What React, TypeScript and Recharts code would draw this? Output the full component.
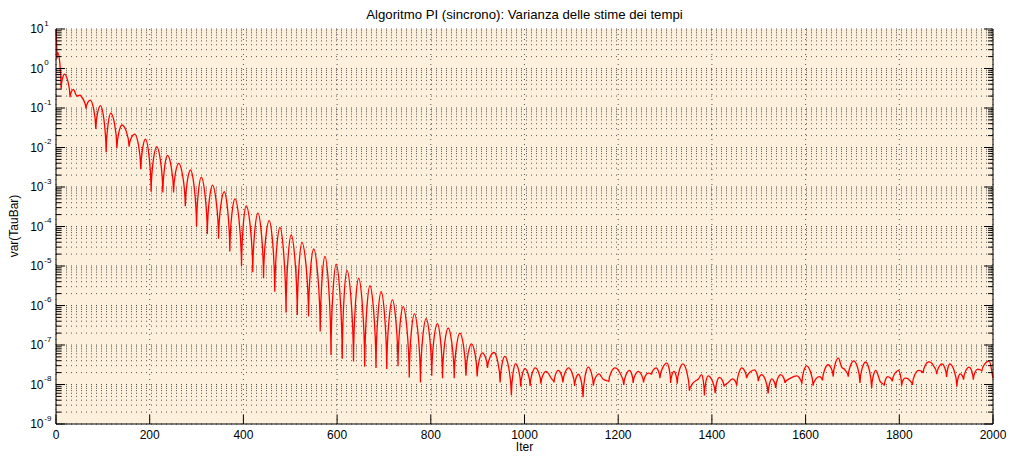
import React from 'react';
import { LineChart, Line, XAxis, YAxis, CartesianGrid } from 'recharts';

// iteration index of each turning point of the curve
const iterations = [
  0, 2, 4, 11, 18, 30, 37, 44, 53, 64, 73, 85, 95, 107, 117, 130, 141, 156, 168, 181,
  191, 203, 215, 228, 238, 251, 262, 276, 287, 300, 310, 323, 334, 347, 359, 371, 382, 396, 406, 420,
  431, 443, 455, 467, 478, 491, 502, 515, 525, 539, 550, 564, 574, 587, 598, 611, 621, 635, 646, 659,
  670, 683, 694, 706, 718, 730, 741, 754, 765, 778, 790, 802, 814, 825, 837, 850, 862, 875, 887, 899,
  910, 921, 935, 948, 958, 972, 981, 992, 1001, 1012, 1023, 1035, 1046, 1058, 1063, 1072, 1082, 1094, 1107, 1115,
  1125, 1136, 1147, 1159, 1168, 1180, 1193, 1202, 1212, 1224, 1232, 1243, 1254, 1264, 1271, 1281, 1289, 1304, 1312, 1319,
  1326, 1338, 1352, 1360, 1371, 1378, 1384, 1392, 1407, 1416, 1426, 1435, 1444, 1453, 1464, 1474, 1491, 1499, 1506, 1520,
  1528, 1536, 1547, 1556, 1568, 1581, 1586, 1592, 1602, 1616, 1629, 1636, 1648, 1659, 1670, 1677, 1684, 1691, 1703, 1716,
  1728, 1741, 1750, 1759, 1768, 1775, 1785, 1798, 1805, 1812, 1819, 1828, 1841, 1851, 1862, 1869, 1880, 1891, 1901, 1908,
  1923, 1930, 1937, 1949, 1958, 1967, 1976, 1992, 2000,
];

// log10 of var(TauBar) at those iterations
const varExponent = [
  1.0, 0.25, 0.4, -0.52, -0.14, -0.73, -0.53, -0.69, -0.69, -1.02, -0.8, -1.53, -0.94, -2.12, -1.13, -2.02, -1.43, -1.98, -1.66, -2.55,
  -1.79, -3.12, -1.98, -3.14, -2.2, -3.14, -2.4, -3.49, -2.57, -4.0, -2.75, -4.19, -2.95, -4.31, -3.12, -4.63, -3.3, -5.0, -3.48, -5.16,
  -3.66, -5.31, -3.85, -5.65, -4.02, -6.18, -4.21, -6.24, -4.4, -6.28, -4.57, -6.66, -4.76, -7.25, -4.95, -7.35, -5.11, -7.42, -5.31, -7.55,
  -5.5, -7.58, -5.65, -7.61, -5.86, -7.54, -6.03, -7.82, -6.21, -7.95, -6.33, -7.78, -6.46, -7.84, -6.57, -7.84, -6.7, -7.78, -6.97, -7.8,
  -7.2, -7.58, -7.19, -7.95, -7.29, -8.27, -7.47, -8.05, -7.6, -8.04, -7.58, -7.98, -7.67, -7.86, -7.95, -7.64, -7.95, -7.58, -8.04, -7.74,
  -8.32, -7.56, -8.03, -7.73, -7.87, -7.93, -7.58, -7.67, -8.01, -7.64, -7.96, -7.67, -7.95, -7.71, -7.75, -7.58, -7.84, -7.46, -7.96, -7.67,
  -7.98, -7.48, -8.16, -7.96, -7.86, -7.75, -8.28, -7.78, -8.22, -7.82, -8.05, -7.95, -7.86, -8.03, -7.58, -7.84, -7.63, -7.92, -7.75, -8.23,
  -7.86, -8.09, -7.75, -7.96, -7.84, -7.78, -7.82, -7.98, -7.53, -8.03, -7.8, -7.9, -7.5, -7.8, -7.33, -7.56, -7.63, -7.8, -7.4, -7.96,
  -7.43, -8.09, -7.64, -7.92, -8.03, -7.8, -7.92, -7.64, -8.03, -7.84, -7.86, -8.01, -7.64, -7.71, -7.43, -7.46, -7.74, -7.48, -7.81, -7.48,
  -8.05, -7.73, -7.88, -7.56, -7.88, -7.61, -7.67, -7.4, -7.84,
];

const xTicks = [0, 200, 400, 600, 800, 1000, 1200, 1400, 1600, 1800, 2000];
const decades = [-9, -8, -7, -6, -5, -4, -3, -2, -1, 0];
const minorSteps = [1, 2, 3, 4, 5, 6, 7, 8, 9];

const TITLE = 'Algoritmo PI (sincrono): Varianza delle stime dei tempi';
const X_LABEL = 'Iter';
const Y_LABEL = 'var(TauBar)';

const W = 1010;
const H = 456;
const PLOT_LEFT = 56;
const PLOT_RIGHT = 993;
const PLOT_TOP = 29;
const PLOT_BOTTOM = 424;
const FONT = '"Liberation Sans", Arial, Helvetica, sans-serif';
const TICK_LEN = 9;
const MINOR_LEN = 5;

const data = iterations.map((it, i) => ({ it, v: Math.pow(10, varExponent[i]) }));
const yTicks = [...decades.flatMap(e => minorSteps.map(m => m * Math.pow(10, e))), 10];

const isDecade = (v: number) => {
  const e = Math.log10(v);
  return Math.abs(e - Math.round(e)) < 1e-6;
};

// Bezier path through the turning points: rounded crests, sharp dips
const dipCurve = (context: any) => {
  let xs: number[] = [];
  let ys: number[] = [];
  return {
    areaStart() {},
    areaEnd() {},
    lineStart() {
      xs = [];
      ys = [];
    },
    point(x: number, y: number) {
      xs.push(+x);
      ys.push(+y);
    },
    lineEnd() {
      const n = xs.length;
      if (!n) return;
      context.moveTo(xs[0], ys[0]);
      if (n === 1) return;
      const kind = (i: number) => {
        if (i === 0 || i === n - 1) return 'end';
        if (ys[i] > ys[i - 1] && ys[i] > ys[i + 1]) return 'low';
        if (ys[i] < ys[i - 1] && ys[i] < ys[i + 1]) return 'high';
        return 'mid';
      };
      const slope = (i: number) => {
        if (i === 0) return (ys[1] - ys[0]) / (xs[1] - xs[0]);
        if (i === n - 1) return (ys[n - 1] - ys[n - 2]) / (xs[n - 1] - xs[n - 2]);
        if (kind(i) === 'high') return 0;
        return (ys[i + 1] - ys[i - 1]) / (xs[i + 1] - xs[i - 1]);
      };
      for (let i = 1; i < n; i++) {
        const x0 = xs[i - 1], y0 = ys[i - 1], x1 = xs[i], y1 = ys[i];
        const dx = x1 - x0, dy = y1 - y0;
        let c1x: number, c1y: number, c2x: number, c2y: number;
        if (kind(i - 1) === 'low') {
          c1x = x0 + dx * 0.06;
          c1y = y0 + dy * 0.55;
        } else {
          const m = slope(i - 1);
          c1x = x0 + dx / 3;
          c1y = y0 + (m * dx) / 3;
        }
        if (kind(i) === 'low') {
          c2x = x1 - dx * 0.06;
          c2y = y1 - dy * 0.55;
        } else {
          const m = slope(i);
          c2x = x1 - dx / 3;
          c2y = y1 - (m * dx) / 3;
        }
        context.bezierCurveTo(c1x, c1y, c2x, c2y, x1, y1);
      }
    },
  };
};

const LeftTick = ({ y, payload }: any) => {
  const v = payload.value as number;
  const major = isDecade(v);
  return (
    <g>
      <line x1={PLOT_LEFT} x2={PLOT_LEFT + (major ? TICK_LEN : MINOR_LEN)} y1={y} y2={y} stroke="#000" />
      {major && (
        <g fontFamily={FONT} fill="#000">
          <text x={43.5} y={y + 4.3} textAnchor="end" fontSize={12}>10</text>
          <text x={44.3} y={y - 3.5} textAnchor="start" fontSize={8}>{Math.round(Math.log10(v))}</text>
        </g>
      )}
    </g>
  );
};

const RightTick = ({ y, payload }: any) => {
  const major = isDecade(payload.value as number);
  return <line x1={PLOT_RIGHT - (major ? TICK_LEN : MINOR_LEN)} x2={PLOT_RIGHT} y1={y} y2={y} stroke="#000" />;
};

const BottomTick = ({ x, payload }: any) => (
  <g>
    <line x1={x} x2={x} y1={PLOT_BOTTOM} y2={PLOT_BOTTOM - TICK_LEN} stroke="#000" />
    <text x={x} y={PLOT_BOTTOM + 15} textAnchor="middle" fontSize={12} fontFamily={FONT} fill="#000">
      {payload.value}
    </text>
  </g>
);

const TopTick = ({ x }: any) => (
  <line x1={x} x2={x} y1={PLOT_TOP} y2={PLOT_TOP + TICK_LEN} stroke="#000" />
);

export default function App() {
  return (
    <div style={{ position: 'absolute', left: 0, top: 0, width: W, height: H, background: '#fff', fontFamily: FONT }}>
      <div style={{ position: 'absolute', left: 0, top: 0 }}>
        <LineChart
          width={W}
          height={H}
          data={data}
          margin={{ top: PLOT_TOP, right: 0, bottom: 0, left: 0 }}
        >
          <CartesianGrid
            stroke="#555"
            strokeDasharray="1 4"
            fill="#FDF0DC"
            fillOpacity={1}
          />
          <XAxis
            dataKey="it"
            type="number"
            domain={[0, 2000]}
            ticks={xTicks}
            interval={0}
            height={H - PLOT_BOTTOM}
            stroke="#000"
            tickLine={false}
            tick={<BottomTick />}
          />
          <XAxis
            xAxisId="top"
            orientation="top"
            type="number"
            domain={[0, 2000]}
            ticks={xTicks}
            interval={0}
            height={0}
            stroke="#000"
            tickLine={false}
            tick={<TopTick />}
          />
          <YAxis
            dataKey="v"
            scale="log"
            type="number"
            domain={[1e-9, 10]}
            allowDataOverflow
            ticks={yTicks}
            interval={0}
            width={PLOT_LEFT}
            stroke="#000"
            tickLine={false}
            tick={<LeftTick />}
          />
          <YAxis
            yAxisId="right"
            orientation="right"
            scale="log"
            type="number"
            domain={[1e-9, 10]}
            allowDataOverflow
            ticks={yTicks}
            interval={0}
            width={W - PLOT_RIGHT}
            stroke="#000"
            tickLine={false}
            tick={<RightTick />}
          />
          <Line
            dataKey="v"
            type={dipCurve as any}
            stroke="#FF0000"
            strokeWidth={1.3}
            dot={false}
            activeDot={false}
            isAnimationActive={false}
          />
        </LineChart>
      </div>
      <div
        style={{
          position: 'absolute',
          left: PLOT_LEFT,
          width: PLOT_RIGHT - PLOT_LEFT,
          top: 7,
          textAlign: 'center',
          fontSize: 13.2,
          lineHeight: '15px',
          color: '#000',
        }}
      >
        {TITLE}
      </div>
      <div
        style={{
          position: 'absolute',
          left: PLOT_LEFT,
          width: PLOT_RIGHT - PLOT_LEFT,
          top: 440,
          textAlign: 'center',
          fontSize: 12,
          lineHeight: '14px',
          color: '#000',
        }}
      >
        {X_LABEL}
      </div>
      <div
        style={{
          position: 'absolute',
          left: 14 - 60,
          top: 226 - 7,
          width: 120,
          textAlign: 'center',
          fontSize: 12,
          lineHeight: '14px',
          color: '#000',
          transform: 'rotate(-90deg)',
        }}
      >
        {Y_LABEL}
      </div>
    </div>
  );
}
